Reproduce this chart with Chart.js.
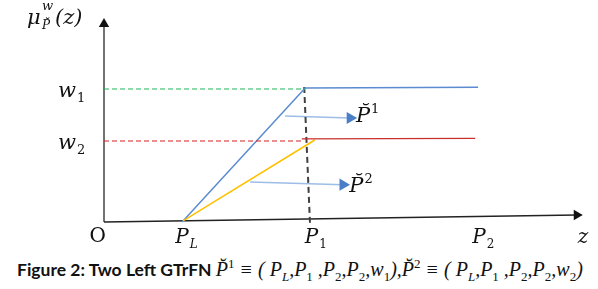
<!DOCTYPE html>
<html>
<head>
<meta charset="utf-8">
<script src="https://cdn.jsdelivr.net/npm/chart.js@4/dist/chart.umd.min.js"></script>
<style>
  body { margin: 0; background: #fff; width: 598px; height: 289px; overflow: hidden; position: relative; }
  #chart { position: absolute; left: 0; top: 0; }
  .caption { position: absolute; left: 17px; top: 256px; white-space: nowrap; font-family: Lato, sans-serif; font-weight: bold; font-size: 17.5px; color: #111; }
  .caption .m { font-family: 'Liberation Serif', serif; font-style: italic; font-weight: normal; font-size: 20px; }
  .caption sub, .caption sup { font-size: 13px; }
  .caption .n { font-style: normal; }
</style>
</head>
<body>
<canvas id="chart" width="598" height="250"></canvas>
<div class="caption">Figure 2: Two Left GTrFN <span class="m">P&#x306;<sup class="n">1</sup> &#8801; ( P<sub>L</sub>,P<sub class="n">1</sub> ,P<sub class="n">2</sub>,P<sub class="n">2</sub>,w<sub class="n">1</sub>),P&#x306;<sup class="n">2</sup> &#8801; ( P<sub>L</sub>,P<sub class="n">1</sub> ,P<sub class="n">2</sub>,P<sub class="n">2</sub>,w<sub class="n">2</sub>)</span></div>
<script>
// values (x: 0..100 along z, y: 0..1 membership)
const xTickValues = [-1.3, 16.3, 43.3, 78.3, 100];
const xTickLabels = [['O', ''], ['P', 'L'], ['P', '1'], ['P', '2'], ['z', '']];
const yTickValues = [0.652, 0.397];
const yTickLabels = [['w', '1'], ['w', '2']];

const p1Line = [[16.3, 0], [42, 0.657], [78.1, 0.66]];
const p2Rise = [[16.5, 0.005], [44, 0.402]];
const p2Flat = [[41.3, 0.407], [77.5, 0.41]];
const w1Guide = [[0, 0.652], [42, 0.652]];
const w2Guide = [[0, 0.397], [41.3, 0.397]];
const p1Drop = [[41.8, 0.662], [43, -0.005]];
const xAxisLine = [[0, 0], [98.7, 0.034]];
const yAxisLine = [[0, 0], [0, 0.97]];
const arrow1 = [[37.8, 0.52], [51.4, 0.51]];
const arrow2 = [[30.5, 0.196], [49.9, 0.183]];
const arrowLabels = [[52.6, 0.49, '1'], [51.2, 0.147, '2']];

const pts = (arr) => arr.map(([x, y]) => ({ x, y }));

const lineSet = (arr, color, width, dash) => ({
  data: pts(arr),
  showLine: true,
  borderColor: color,
  borderWidth: width,
  borderDash: dash || [],
  pointRadius: 0,
  clip: false,
});

const arrowSet = (arr, color, headColor, rotation, r) => ({
  data: pts(arr),
  showLine: true,
  borderColor: color,
  borderWidth: 1.5,
  pointRadius: [0, r],
  pointStyle: 'triangle',
  rotation: rotation,
  pointBackgroundColor: headColor,
  pointBorderColor: headColor,
  pointBorderWidth: 0,
  clip: false,
});

// draws a letter with an optional subscript / superscript
const mathText = (ctx, x, y, base, sub, sup, size, center) => {
  ctx.font = 'italic ' + size + 'px "DejaVu Serif", serif';
  const bw = ctx.measureText(base).width;
  const left = center ? x - bw / 2 : x;
  ctx.textAlign = 'left';
  ctx.textBaseline = 'alphabetic';
  ctx.fillText(base, left, y);
  const small = Math.round(size * 0.62);
  ctx.font = (isNaN(sub) ? 'italic ' : '') + small + 'px "DejaVu Serif", serif';
  if (sub) ctx.fillText(sub, left + bw + 1, y + size * 0.25);
  ctx.font = small + 'px "DejaVu Serif", serif';
  if (sup) ctx.fillText(sup, left + bw + 1, y - size * 0.45);
};

const labelsPlugin = {
  id: 'labels',
  afterDatasetsDraw(chart) {
    const { ctx, scales: { x, y } } = chart;
    ctx.save();
    ctx.fillStyle = '#111';

    // y axis title
    ctx.font = 'italic 21px "DejaVu Serif", serif';
    ctx.textAlign = 'left';
    ctx.textBaseline = 'alphabetic';
    ctx.fillText('\u03bc', 27, 24);
    ctx.font = 'italic 13px "DejaVu Serif", serif';
    ctx.fillText('w', 42, 10);
    ctx.font = 'italic 12px "DejaVu Serif", serif';
    ctx.fillText('P\u0306', 42, 29);
    ctx.font = 'italic 21px "DejaVu Serif", serif';
    ctx.fillText('(z)', 55, 24);

    xTickLabels.forEach(([b, s], i) => {
      const px = x.getPixelForValue(xTickValues[i]);
      if (b === 'O') {
        ctx.font = '20px "DejaVu Serif", serif';
        ctx.textAlign = 'center';
        ctx.fillText('O', px, 242);
      } else {
        mathText(ctx, px, 243, b, s, '', 20, true);
      }
    });

    yTickLabels.forEach(([b, s], i) => {
      mathText(ctx, 58, y.getPixelForValue(yTickValues[i]) + 8, b, s, '', 21, false);
    });

    arrowLabels.forEach(([vx, vy, s]) => {
      mathText(ctx, x.getPixelForValue(vx), y.getPixelForValue(vy), 'P\u0306', '', s, 21, false);
    });
    ctx.restore();
  },
};

new Chart(document.getElementById('chart'), {
  type: 'scatter',
  data: {
    datasets: [
      lineSet(w1Guide, '#22b35a', 1.2, [5, 3]),
      lineSet(w2Guide, '#d42020', 1.2, [5, 3]),
      lineSet(p2Flat, '#c9302c', 1.3),
      lineSet(p2Rise, '#ffc000', 1.5),
      lineSet(p1Line, '#5b8bd0', 1.5),
      lineSet(p1Drop, '#404040', 2, [6, 4]),
      arrowSet(xAxisLine, '#222', '#111', 90, 6),
      arrowSet(yAxisLine, '#444', '#111', 0, 6),
      arrowSet(arrow1, '#9dbde6', '#4a7fc8', 90, 7),
      arrowSet(arrow2, '#9dbde6', '#4a7fc8', 90, 7),
    ],
  },
  options: {
    responsive: false,
    animation: false,
    layout: { padding: { left: 104, right: 15, top: 18, bottom: 28 } },
    plugins: { legend: { display: false }, tooltip: { enabled: false } },
    scales: {
      x: { type: 'linear', min: 0, max: 100, display: false },
      y: { type: 'linear', min: 0, max: 1, display: false },
    },
  },
  plugins: [labelsPlugin],
});
</script>
</body>
</html>
